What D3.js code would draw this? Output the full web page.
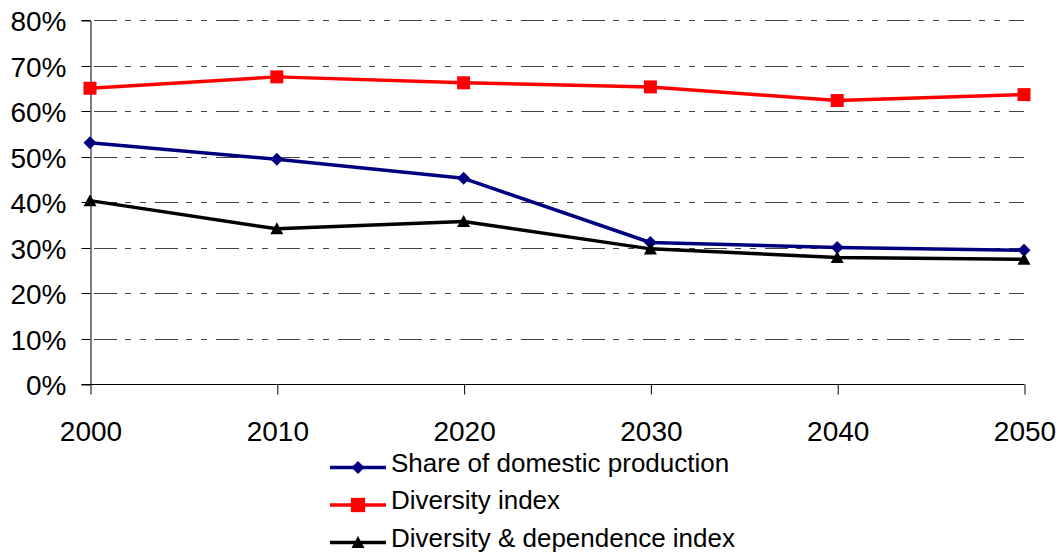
<!DOCTYPE html>
<html><head><meta charset="utf-8">
<script src="https://cdn.jsdelivr.net/npm/d3@7/dist/d3.min.js"></script>
<style>body{margin:0;background:#fff}svg{display:block}</style>
</head><body>
<svg id="c" width="1064" height="554"></svg>
<script>
const years = [2000, 2010, 2020, 2030, 2040, 2050];
const yTicks = [0, 0.1, 0.2, 0.3, 0.4, 0.5, 0.6, 0.7, 0.8];
const shareDomestic = [0.530, 0.494, 0.452, 0.311, 0.300, 0.294];
const diversityIndex = [0.650, 0.675, 0.662, 0.653, 0.623, 0.636];
const diversityDependence = [0.403, 0.341, 0.357, 0.297, 0.278, 0.274];
const seriesNames = ["Share of domestic production", "Diversity index", "Diversity & dependence index"];

const series = [
  {name: seriesNames[0], values: shareDomestic, color: "#000080", marker: "diamond"},
  {name: seriesNames[1], values: diversityIndex, color: "#ff0000", marker: "square"},
  {name: seriesNames[2], values: diversityDependence, color: "#000000", marker: "triangle"}
];

const svg = d3.select("#c");
const font = "'Liberation Sans', Arial, sans-serif";
const x = d3.scaleLinear().domain([2000, 2050]).range([90, 1024]);
const y = d3.scaleLinear().domain([0, 0.8]).range([384, 20]);

// gridlines
svg.append("g").selectAll("line").data(yTicks.filter(d => d > 0)).join("line")
  .attr("x1", 90).attr("x2", 1024)
  .attr("y1", d => Math.round(y(d)) + 0.5).attr("y2", d => Math.round(y(d)) + 0.5)
  .attr("stroke", "#444").attr("stroke-width", 1)
  .attr("stroke-dasharray", "23,8,6,9,6,9").attr("stroke-dashoffset", -4);

// y axis
const yAxis = d3.axisLeft(y).tickValues(yTicks).tickFormat(d3.format(".0%")).tickSize(9).tickPadding(15);
const gy = svg.append("g").attr("transform", "translate(90.5,0.5)").call(yAxis);
gy.select(".domain").attr("stroke", "#000");
gy.selectAll(".tick line").attr("stroke", "#000");
gy.selectAll("text").attr("font-family", font).attr("font-size", 28).attr("fill", "#000").attr("dy", "0.36em");
gy.selectAll(".tick").attr("transform", d => `translate(0,${Math.round(y(d))})`);

// x axis
const xAxis = d3.axisBottom(x).tickValues(years).tickFormat(d3.format("d")).tickSize(10).tickPadding(27);
const gx = svg.append("g").attr("transform", "translate(0.5,384.5)").call(xAxis);
gx.select(".domain").attr("stroke", "#000").attr("d", "M90,0H1024");
gx.selectAll(".tick line").attr("stroke", "#000");
gx.selectAll("text").attr("font-family", font).attr("font-size", 28).attr("fill", "#000");

const line = d3.line().x((d, i) => x(years[i])).y(d => y(d));

function markerPath(type, s) {
  const h = s / 2;
  if (type === "diamond") return `M0,${-h}L${h},0L0,${h}L${-h},0Z`;
  if (type === "square") return `M${-h},${-h}H${h}V${h}H${-h}Z`;
  return `M0,${-h}L${h},${h * 0.85}L${-h},${h * 0.85}Z`;
}
const mSize = {diamond: 13, square: 13, triangle: 13};

function drawMarker(g, s, cx, cy, scale) {
  g.append("path").attr("d", markerPath(s.marker, mSize[s.marker] * (scale || 1)))
    .attr("transform", `translate(${cx},${cy})`).attr("fill", s.color);
}

series.forEach(s => {
  svg.append("path").datum(s.values).attr("d", line)
    .attr("fill", "none").attr("stroke", s.color).attr("stroke-width", 3.5).attr("stroke-linejoin", "round");
  const g = svg.append("g");
  s.values.forEach((v, i) => drawMarker(g, s, x(years[i]), y(v)));
});

// legend
const leg = svg.append("g");
series.forEach((s, i) => {
  const ly = 467.5 + i * 37.5;
  leg.append("line").attr("x1", 330).attr("x2", 386).attr("y1", ly).attr("y2", ly)
    .attr("stroke", s.color).attr("stroke-width", 3.5);
  drawMarker(leg, s, 358, ly, s.marker === "square" ? 1.1 : 1);
  leg.append("text").attr("x", 391).attr("y", ly + 4.2)
    .attr("font-family", font).attr("font-size", 26).attr("fill", "#000").text(s.name);
});
</script>
</body></html>
